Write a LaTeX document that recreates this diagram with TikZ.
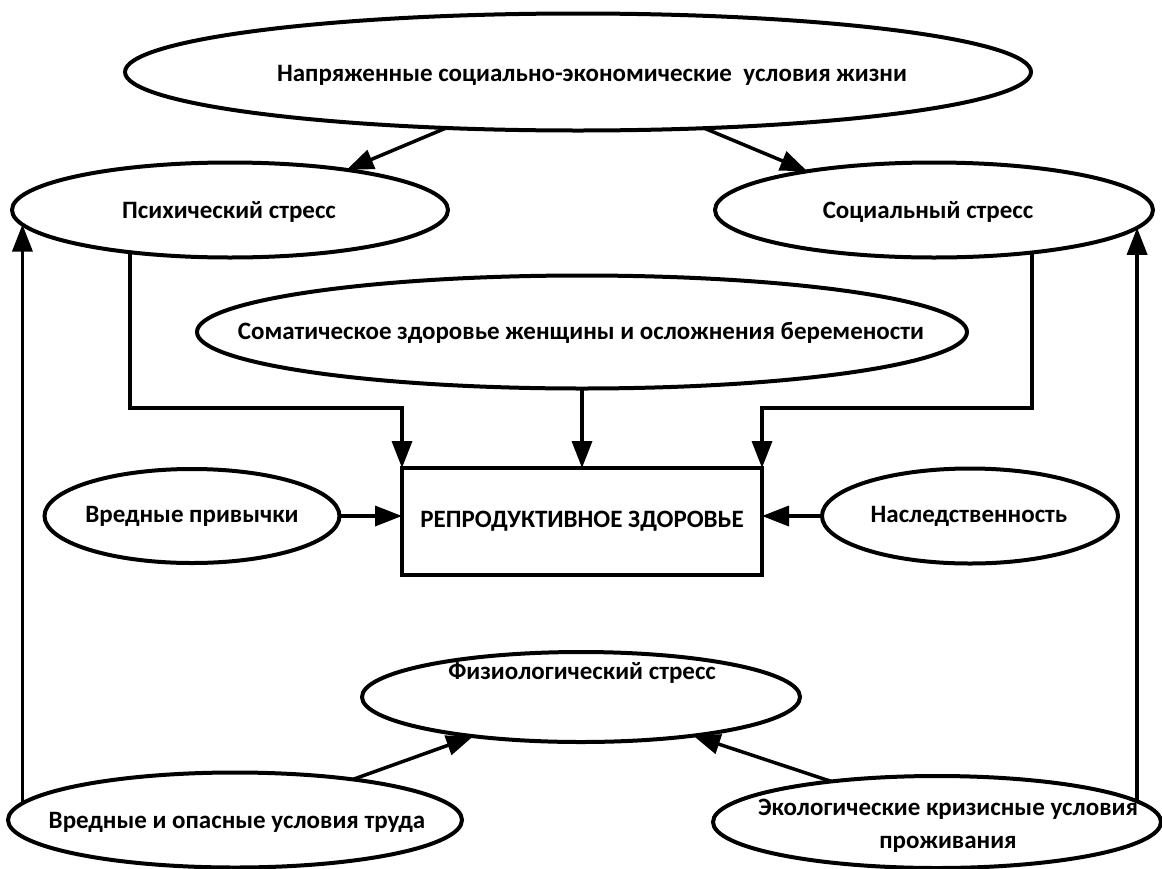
\documentclass[tikz,border=0pt]{standalone}
\usepackage{fontspec}
\setmainfont{Carlito}
\usetikzlibrary{shapes.geometric,arrows.meta}
\pgfdeclarelayer{bg}
\pgfsetlayers{bg,main}
\begin{document}
\begin{tikzpicture}[x=1pt,y=-1pt,
  ell/.style={ellipse,draw,fill=white,line width=4pt,inner sep=0pt,outer sep=0pt},
  lbl/.style={font=\fontsize{25}{33}\selectfont\bfseries,inner sep=0pt,align=center},
  box/.style={rectangle,draw,fill=white,line width=3.5pt,inner sep=0pt,outer sep=0pt,
              font=\fontsize{25}{30}\selectfont\bfseries},
  conn/.style={line width=3.5pt},
  arr/.style={conn,-{Triangle[length=27pt,width=20pt]}}]
\useasboundingbox (0,0) rectangle (1162,868);

% ellipses
\node[ell,minimum width=906pt,minimum height=117pt] (top) at (578,72) {};
\node[ell,minimum width=436pt,minimum height=95pt] (psych) at (230,210) {};
\node[ell,minimum width=438pt,minimum height=95pt] (soc) at (934,210) {};
\node[ell,minimum width=770pt,minimum height=113pt] (som) at (582,332) {};
\node[box,minimum width=360pt,minimum height=107pt] (rep) at (582,521.5) {РЕПРОДУКТИВНОЕ ЗДОРОВЬЕ};
\node[ell,minimum width=295pt,minimum height=94pt] (habit) at (192,516) {};
\node[ell,minimum width=296pt,minimum height=95pt] (hered) at (970,516) {};
\node[ell,minimum width=438pt,minimum height=90pt] (phys) at (581,697) {};
\node[ell,minimum width=454pt,minimum height=95pt] (work) at (235,820) {};
\node[ell,minimum width=448pt,minimum height=92pt] (eco) at (937,822) {};

% texts
\node[lbl] (topT) at (592,75) {Напряженные социально-экономические \ условия жизни};
\node[lbl] (psychT) at (229,212) {Психический стресс};
\node[lbl] (socT) at (928,212) {Социальный стресс};
\node[lbl] (somT) at (581,333) {Соматическое здоровье женщины и осложнения беремености};
\node[lbl] (habitT) at (192,516) {Вредные привычки};
\node[lbl] (heredT) at (969,516) {Наследственность};
\node[lbl] (physT) at (582,673) {Физиологический стресс};
\node[lbl] (workT) at (237,822) {Вредные и опасные условия труда};
\node[lbl] (ecoT) at (948,826) {Экологические кризисные условия\\проживания};

% helper coordinates
\coordinate (pL) at (130,408);
\coordinate (pR) at (1032,408);

\begin{pgfonlayer}{bg}
\draw[arr] (top.203) -- (psych.19);
\draw[arr] (top.336) -- (soc.163);
\draw[arr] (psych.center -| pL) -- (pL) -| (rep.north west);
\draw[arr] (soc.center -| pR) -- (pR) -| (rep.north east);
\draw[arr] (som.south) -- (rep.north);
\draw[arr] (habit.east) -- (habit.east -| rep.west);
\draw[arr] (hered.west) -- (hered.west -| rep.east);
\draw[arr] (work.center -| psych.184.8) -- (psych.184.8);
\draw[arr] (eco.center -| soc.355.2) -- (soc.355.2);
\draw[arr] (work.19.3) -- (phys.200.3);
\draw[arr] (eco.159.8) -- (phys.341.4);
\end{pgfonlayer}
\end{tikzpicture}
\end{document}
